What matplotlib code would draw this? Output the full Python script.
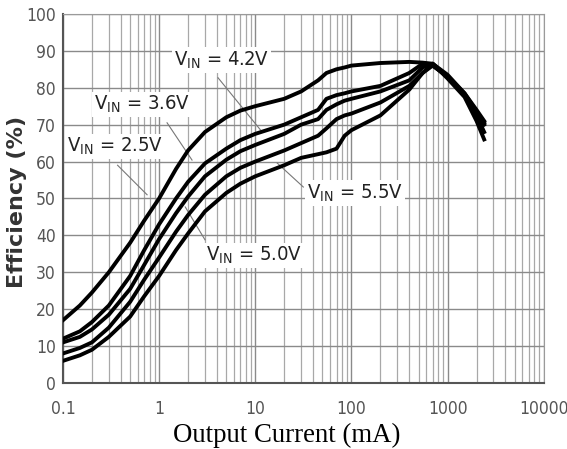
import numpy as np
import matplotlib
matplotlib.use("Agg")
import matplotlib.pyplot as plt

plt.rcParams['font.family'] = ['DejaVu Sans']
plt.rcParams['font.stretch'] = 'condensed'
plt.rcParams['mathtext.fontset'] = 'custom'
plt.rcParams['mathtext.rm'] = 'DejaVu Sans:stretch=condensed'
plt.rcParams['mathtext.it'] = 'DejaVu Sans:stretch=condensed'

# Output current (mA)
current = [0.1, 0.15, 0.2, 0.3, 0.5, 0.7, 1, 1.5, 2, 3, 5, 7, 10, 20, 30, 45, 55,
           70, 85, 100, 200, 400, 550, 700, 1000, 1500, 2000, 2400]

# Efficiency (%) for each input voltage
eff_25 = [17, 21, 24.5, 30, 38, 44, 50, 58, 63, 68, 72, 73.8, 75, 77, 79, 82, 84,
          85, 85.5, 86, 86.7, 87, 86.8, 86.5, 83, 78.5, 74, 71]
eff_42 = [12, 14, 16.5, 21, 29, 36, 43, 50, 54.5, 59.5, 63.5, 65.8, 67.5, 70, 72, 74, 77,
          78, 78.5, 79, 80.5, 84, 86.5, 86, 83, 78, 73, 70]
eff_36 = [11, 12.5, 14.5, 18.5, 25.5, 32, 39, 46, 50.5, 56, 60.5, 62.8, 64.5, 67.5, 70, 71.5, 74,
          75.5, 76.5, 77, 79, 82, 85.5, 86.5, 83.5, 78.5, 73.5, 70.5]
eff_50 = [8, 9.5, 11, 15, 22, 28, 34, 41, 45.5, 51, 56, 58.3, 60, 63, 65, 67, 69,
          71.5, 72.5, 73, 76, 80.5, 84, 86, 83, 78, 72.5, 68]
eff_55 = [6, 7.5, 9, 12.5, 18, 23.5, 29, 36, 40.5, 46.5, 51.5, 54, 56, 59, 61, 62, 62.5,
          63.5, 67, 68.5, 72.5, 79.5, 84, 86.5, 82.5, 77.5, 71, 66]

# label text, text position, pointer start/end
labels = ["4.2V", "3.6V", "2.5V", "5.5V", "5.0V"]
label_pos = [(4.5, 87.5), (0.67, 75.5), (0.345, 64), (108, 51.5), (9.8, 34.5)]
pointer_start = [(4.1, 82.7), (1.21, 70.5), (0.37, 59), (31.6, 53.1), (3.0, 38.8)]
pointer_end = [(11.3, 68.6), (2.2, 60.4), (0.75, 51), (16.9, 59.6), (1.87, 47.7)]

fig = plt.figure(figsize=(5.67, 4.49), dpi=100)
ax = fig.add_axes([0.111, 0.147, 0.848, 0.822])

for eff in [eff_25, eff_42, eff_36, eff_50, eff_55]:
    ax.plot(current, eff, color='black', linewidth=2.8, solid_joinstyle='round', zorder=3)

ax.set_xscale('log')
ax.set_xlim(0.1, 10000)
ax.set_ylim(0, 100)
ax.set_yticks(np.arange(0, 101, 10))
ax.set_xticks([0.1, 1, 10, 100, 1000, 10000])
ax.set_xticklabels(["0.1", "1", "10", "100", "1000", "10000"])
ax.grid(True, which='major', color='#8a8a8a', linewidth=1.0)
ax.grid(True, which='minor', axis='x', color='#a8a8a8', linewidth=0.9)
ax.tick_params(which='both', length=0, labelsize=12.5, labelcolor='#555555')
ax.tick_params(axis='x', pad=12)
ax.tick_params(axis='y', pad=5)

for side in ['top', 'right']:
    ax.spines[side].set_color('#9a9a9a')
for side in ['left', 'bottom']:
    ax.spines[side].set_color('#555555')
    ax.spines[side].set_linewidth(1.5)

for txt, pos, p0, p1 in zip(labels, label_pos, pointer_start, pointer_end):
    ax.plot([p0[0], p1[0]], [p0[1], p1[1]], color='#777777', linewidth=0.8, zorder=2)
    ax.text(pos[0], pos[1], "V$_{\\rm IN}$ = " + txt, fontsize=14.5, color='#222222',
            ha='center', va='center', zorder=4,
            bbox=dict(facecolor='white', edgecolor='none', pad=1.5))

ax.set_ylabel("Efficiency (%)", fontsize=16, fontweight='bold', color='#333333',
              family='DejaVu Sans', fontstretch='normal')
ax.yaxis.set_label_coords(-0.075, 0.49)
ax.set_xlabel("Output Current (mA)", fontsize=19.3, family='Liberation Serif',
              fontstretch='normal', color='black', labelpad=4, x=0.465)

fig.savefig("out.png", dpi=100)
